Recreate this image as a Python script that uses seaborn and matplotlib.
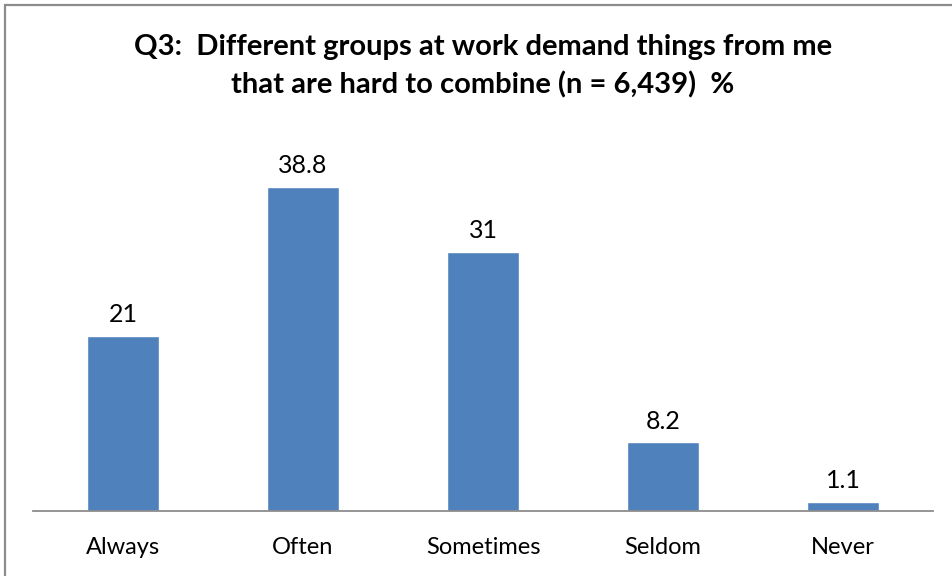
import matplotlib
matplotlib.use("Agg")
import matplotlib.pyplot as plt
import seaborn as sns
import pandas as pd
from matplotlib.patches import Rectangle

categories = ["Always", "Often", "Sometimes", "Seldom", "Never"]
percentages = [21, 38.8, 31, 8.2, 1.1]
value_labels = ["21", "38.8", "31", "8.2", "1.1"]
title_text = "Q3:  Different groups at work demand things from me\nthat are hard to combine (n = 6,439)  %"

sns.set_theme(style="white")
plt.rcParams["font.family"] = ["Lato", "DejaVu Sans"]

df = pd.DataFrame({"category": categories, "pct": percentages})

fig = plt.figure(figsize=(9.52, 5.76), dpi=100)
ax = fig.add_axes([33 / 952, 65 / 576, 900 / 952, 376 / 576])

sns.barplot(data=df, x="category", y="pct", color="#4F81BD", width=0.4,
            saturation=1, ax=ax)

ax.set_ylim(0, 45)
ax.set_xlim(-0.5, 4.5)
ax.set_xlabel("")
ax.set_ylabel("")
ax.set_yticks([])
ax.tick_params(axis="x", length=0, labelsize=17, pad=19, colors="black")
for side in ("top", "right", "left"):
    ax.spines[side].set_visible(False)
ax.spines["bottom"].set_color("#8c8c8c")
ax.spines["bottom"].set_linewidth(1.3)

for bar, lab in zip(ax.patches, value_labels):
    ax.annotate(lab, (bar.get_x() + bar.get_width() / 2, bar.get_height()),
                xytext=(0, 10), textcoords="offset points",
                ha="center", va="baseline", fontsize=18, color="black")

fig.text(483 / 952, 1 - 66 / 576, title_text, ha="center", va="center",
         fontsize=21, fontweight="bold", linespacing=1.52, color="black")

fig.patches.append(Rectangle((4.5 / 952, -0.1), 1.2, (576 - 4.5) / 576 + 0.1,
                             transform=fig.transFigure, fill=False,
                             edgecolor="#8c8c8c", linewidth=1.6))

fig.savefig("out.png", dpi=100)
